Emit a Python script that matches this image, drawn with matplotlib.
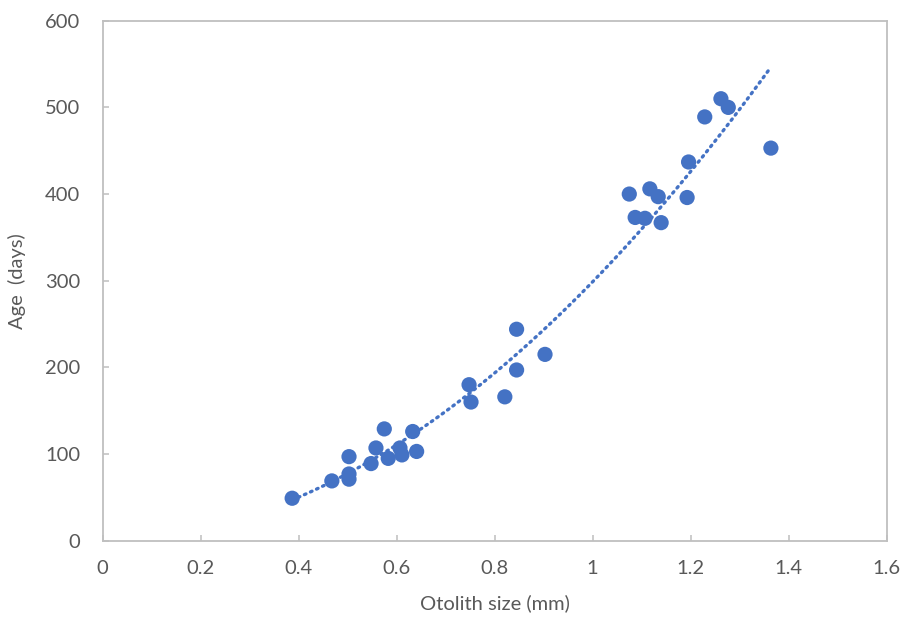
import numpy as np
import matplotlib
matplotlib.use("Agg")
import matplotlib.pyplot as plt

plt.rcParams['font.family'] = ['Lato', 'DejaVu Sans']

otolith_mm = [0.387, 0.468, 0.503, 0.503, 0.503, 0.548, 0.558, 0.575, 0.583, 0.607, 0.611,
              0.633, 0.641, 0.748, 0.752, 0.821, 0.845, 0.845, 0.903, 1.075, 1.087, 1.107,
              1.117, 1.134, 1.140, 1.193, 1.196, 1.229, 1.262, 1.277, 1.364]
age_days = [49, 69, 97, 77, 71, 89, 107, 129, 95, 107, 99,
            126, 103, 180, 160, 166, 244, 197, 215, 400, 373, 372,
            406, 397, 367, 396, 437, 489, 510, 500, 453]

x_ticks = [0, 0.2, 0.4, 0.6, 0.8, 1, 1.2, 1.4, 1.6]
x_tick_labels = ['0', '0.2', '0.4', '0.6', '0.8', '1', '1.2', '1.4', '1.6']
y_ticks = [0, 100, 200, 300, 400, 500, 600]

blue = '#4472C4'
grey_text = '#595959'
grey_line = '#BFBFBF'

fig = plt.figure(figsize=(9.05, 6.28), dpi=100)
ax = fig.add_axes([0.1133, 0.139, 0.8663, 0.828])

x = np.array(otolith_mm)
y = np.array(age_days)
# power trendline (log-log least squares)
b, loga = np.polyfit(np.log(x), np.log(y), 1)
xf = np.linspace(x.min(), x.max(), 200)
yf = np.exp(loga) * xf ** b
ax.plot(xf, yf, linestyle=(0, (0.5, 1.5)), color=blue, linewidth=2.4,
        dash_capstyle='round', zorder=2)

ax.scatter(x, y, s=120, color=blue, edgecolors='none', zorder=3)

ax.set_xlim(0, 1.6)
ax.set_ylim(0, 600)
ax.set_xticks(x_ticks)
ax.set_xticklabels(x_tick_labels)
ax.set_yticks(y_ticks)

for sp in ax.spines.values():
    sp.set_color(grey_line)
    sp.set_linewidth(1.3)

ax.tick_params(axis='both', direction='in', length=4, width=1.1, color=grey_line,
               labelcolor=grey_text, labelsize=14.5)
ax.tick_params(axis='x', pad=14)
ax.tick_params(axis='y', pad=16)

ax.set_xlabel('Otolith size (mm)', color=grey_text, fontsize=14.5, labelpad=12)
ax.set_ylabel('Age  (days)', color=grey_text, fontsize=14.5, labelpad=14)

fig.savefig('out.png', dpi=100)
